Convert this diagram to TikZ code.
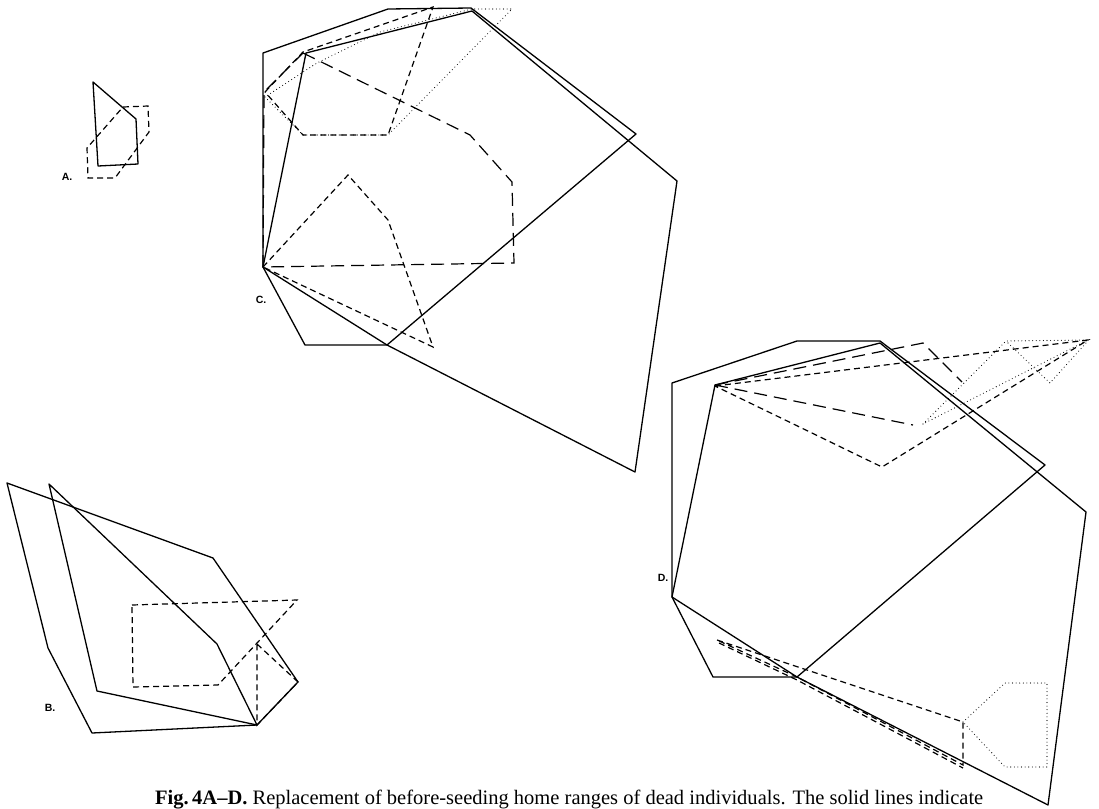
\documentclass[tikz,border=0pt]{standalone}
\usepackage{graphicx}
\usepackage{fontspec}
\setmainfont{Liberation Serif}
\newfontfamily\labfont{Liberation Sans}
\begin{document}
\begin{tikzpicture}[x=1pt,y=-1pt,
  rng/.style={line width=1.3pt,line join=round},
  sdash/.style={line width=1.2pt,dash pattern=on 6pt off 4pt},
  ldash/.style={line width=1.2pt,dash pattern=on 13pt off 7pt},
  dots/.style={line width=1.1pt,line cap=round,dash pattern=on 0pt off 3.6pt},
  lab/.style={font=\labfont\bfseries\fontsize{10.5}{11}\selectfont,inner sep=0pt}]
\useasboundingbox (0,0) rectangle (1099,808);
% ---------- A ----------
\draw[rng] (93,82) -- (136,119) -- (138,164) -- (98,166) -- cycle;
\draw[sdash] (123,107) -- (148,106) -- (149,132) -- (115,178) -- (88,178) -- (87,148) -- cycle;
\node[lab] (labA) at (67,177) {A.};
% ---------- C ----------
\draw[rng] (263,53) -- (388,9) -- (471,8) -- (636,134) -- (387,345) -- (305,345) -- (263,267) -- cycle;
\draw[rng] (306,53) -- (472,11) -- (677,181) -- (635,472) -- (387,345) -- (263,267) -- cycle;
\draw[ldash] (303,53) -- (470,135) -- (512,182) -- (514,263) -- (263,267) -- (264,92) -- cycle;
\draw[sdash] (263,267) -- (348,175) -- (388,220) -- (433,347) -- cycle;
\draw[sdash] (265,92) -- (303,52) -- (433,7) -- (388,135) -- (303,135) -- cycle;
\draw[dots] (265,97) -- (303,135) -- (388,135) -- (512,9) -- (472,9) -- (380,32) -- (317,63) -- cycle;
\node[lab] (labC) at (261,300) {C.};
% ---------- D ----------
\draw[rng] (672,383) -- (797,341) -- (880,341) -- (1045,465) -- (797,677) -- (713,677) -- (672,597) -- cycle;
\draw[rng] (715,385) -- (880,343) -- (1086,512) -- (1048,805) -- (797,677) -- (672,597) -- cycle;
\draw[ldash] (715,385) -- (923,343) -- (962,382);
\draw[ldash] (715,385) -- (913,425);
\draw[sdash] (715,386) -- (1088,340) -- (882,467) -- cycle;
\draw[dots] (923,424) -- (1006,341) -- (1088,340) -- cycle;
\draw[dots] (1008,343) -- (1050,383) -- (1086,343);
\draw[sdash] (717,640) -- (963,722) -- (963,765) -- (797,677) -- cycle;
\draw[sdash] (719,643) -- (797,680) -- (963,768);
\draw[dots] (963,722) -- (1005,683) -- (1047,683) -- (1047,767) -- (1005,767) -- cycle;
\node[lab] (labD) at (663,578) {D.};
% ---------- B ----------
\draw[rng] (7,483) -- (213,558) -- (298,682) -- (257,725) -- (92,733) -- (48,648) -- cycle;
\draw[rng] (49,484) -- (217,644) -- (257,725) -- (97,691) -- cycle;
\draw[sdash] (132,605) -- (297,600) -- (218,685) -- (133,687) -- cycle;
\draw[sdash] (257,644) -- (298,682) -- (257,725) -- cycle;
\node[lab] (labB) at (50,708) {B.};
% ---------- caption ----------
\node[anchor=base west,inner sep=0pt] (cap) at (155,804)
  {\resizebox{828pt}{!}{\fontsize{18}{20}\selectfont\textbf{Fig.\,4A--D.} Replacement of before-seeding home ranges of dead individuals. The solid lines indicate}};
\end{tikzpicture}
\end{document}
